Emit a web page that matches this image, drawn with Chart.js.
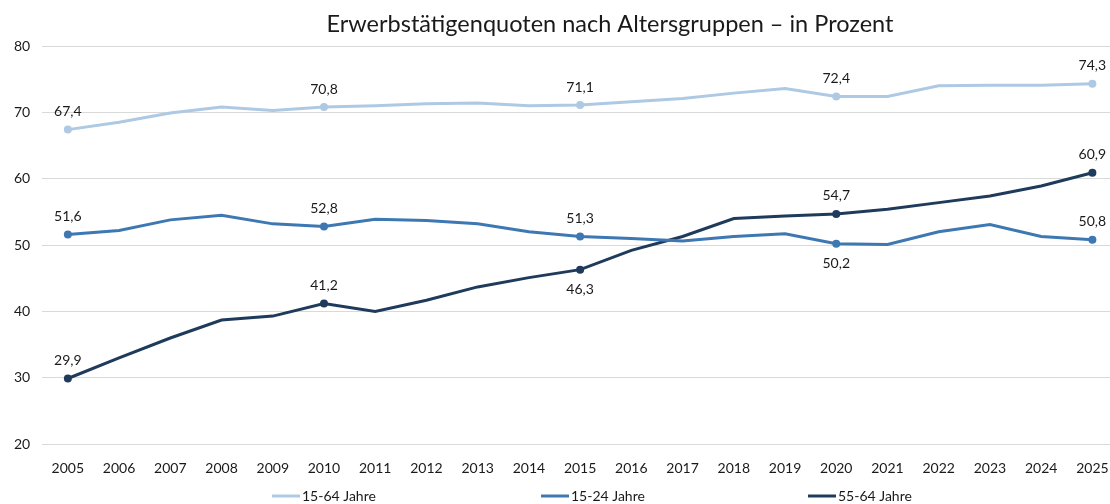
<!DOCTYPE html>
<html>
<head>
<meta charset="utf-8">
<script src="https://cdn.jsdelivr.net/npm/chart.js@4"></script>
<style>
  html, body { margin: 0; padding: 0; background: #fff; overflow: hidden; }
  #wrap { width: 1122px; height: 504px; }
</style>
</head>
<body>
<div id="wrap"><canvas id="quotenChart"></canvas></div>
<script>
// Jahre und Quoten (in Prozent)
const years = ["2005","2006","2007","2008","2009","2010","2011","2012","2013","2014","2015",
               "2016","2017","2018","2019","2020","2021","2022","2023","2024","2025"];
const quote15bis64 = [67.4, 68.5, 69.9, 70.8, 70.3, 70.8, 71.0, 71.3, 71.4, 71.0, 71.1,
                      71.6, 72.1, 72.9, 73.6, 72.4, 72.4, 74.0, 74.1, 74.1, 74.3];
const quote15bis24 = [51.6, 52.2, 53.8, 54.5, 53.2, 52.8, 53.9, 53.7, 53.2, 52.0, 51.3,
                      51.0, 50.6, 51.3, 51.7, 50.2, 50.1, 52.0, 53.1, 51.3, 50.8];
const quote55bis64 = [29.9, 33.0, 36.0, 38.7, 39.3, 41.2, 40.0, 41.7, 43.7, 45.1, 46.3,
                      49.2, 51.3, 54.0, 54.4, 54.7, 55.4, 56.4, 57.4, 58.9, 60.9];
const seriesNames = ["15-64 Jahre", "15-24 Jahre", "55-64 Jahre"];
const labeledYears = ["2005", "2010", "2015", "2020", "2025"];
// Beschriftungen, die unter dem Punkt stehen
const labelsBelow = { "15-24 Jahre": ["2020"], "55-64 Jahre": ["2015"] };

const FONT = "Lato, 'Open Sans', sans-serif";
const TEXT = "#1a1a1a";
const colors = ["#AEC9E3", "#3E78B3", "#1F3B5C"];
const legendX = [272, 541, 808];

function pointRadii() {
  return years.map(y => labeledYears.includes(y) ? 4 : 0);
}

// Titel, Datenbeschriftungen und Legende
const labelPlugin = {
  id: "labelPlugin",
  afterDatasetsDraw(chart) {
    const ctx = chart.ctx;
    ctx.save();
    ctx.fillStyle = TEXT;
    ctx.font = "23.5px " + FONT;
    ctx.textAlign = "center";
    ctx.textBaseline = "middle";
    ctx.fillText("Erwerbstätigenquoten nach Altersgruppen – in Prozent", 610, 24);

    ctx.font = "14px " + FONT;
    chart.data.datasets.forEach((ds, i) => {
      const meta = chart.getDatasetMeta(i);
      meta.data.forEach((pt, j) => {
        if (!labeledYears.includes(years[j])) return;
        const below = (labelsBelow[ds.label] || []).includes(years[j]);
        const txt = ds.data[j].toFixed(1).replace(".", ",");
        ctx.fillText(txt, pt.x, pt.y + (below ? 20 : -18));
      });
    });

    // Legende unten
    ctx.textAlign = "left";
    chart.data.datasets.forEach((ds, i) => {
      const x = legendX[i], y = 496;
      ctx.strokeStyle = ds.borderColor;
      ctx.lineWidth = 3;
      ctx.beginPath();
      ctx.moveTo(x, y);
      ctx.lineTo(x + 28, y);
      ctx.stroke();
      ctx.fillStyle = TEXT;
      ctx.fillText(ds.label, x + 30, y);
    });
    ctx.restore();
  }
};

const datasets = [quote15bis64, quote15bis24, quote55bis64].map((vals, i) => ({
  label: seriesNames[i],
  data: vals,
  borderColor: colors[i],
  backgroundColor: colors[i],
  borderWidth: 3,
  pointRadius: pointRadii(),
  pointBorderWidth: 0,
  pointHoverRadius: 4,
  tension: 0,
  fill: false
}));

new Chart(document.getElementById("quotenChart"), {
  type: "line",
  data: { labels: years, datasets },
  plugins: [labelPlugin],
  options: {
    responsive: true,
    maintainAspectRatio: false,
    animation: false,
    layout: { padding: { top: 46, left: 2, right: 0, bottom: 19 } },
    plugins: {
      title: { display: false },
      tooltip: { enabled: false },
      legend: { display: false }
    },
    scales: {
      x: {
        offset: true,
        grid: { display: false },
        border: { display: false },
        ticks: { color: TEXT, font: { family: FONT, size: 14 }, padding: 8, maxRotation: 0 }
      },
      y: {
        min: 20,
        max: 80,
        ticks: { stepSize: 10, color: TEXT, font: { family: FONT, size: 14 }, padding: 12 },
        grid: { color: "#d9d9d9", lineWidth: 1, drawTicks: false },
        border: { display: false }
      }
    }
  }
});
</script>
</body>
</html>
